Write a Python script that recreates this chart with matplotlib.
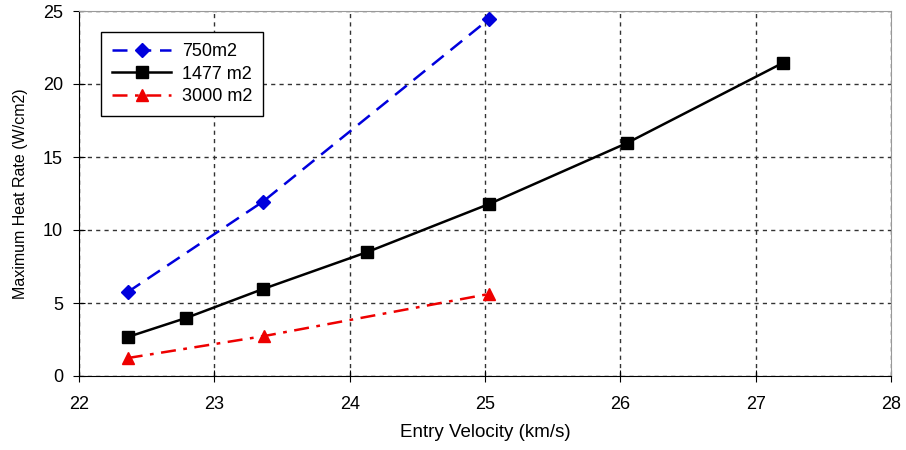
"""
Maximum heat rate vs entry velocity for three aeroshell areas.
"""

import matplotlib
matplotlib.use('Agg')
import matplotlib.pyplot as plt

# data
v_750 = [22.36, 23.36, 25.03]
q_750 = [5.75, 11.95, 24.45]

v_1477 = [22.36, 22.79, 23.36, 24.13, 25.03, 26.05, 27.2]
q_1477 = [2.67, 3.97, 5.96, 8.49, 11.78, 15.96, 21.44]

v_3000 = [22.36, 23.37, 25.03]
q_3000 = [1.23, 2.74, 5.62]

plt.rcParams['font.family'] = ['Liberation Sans', 'DejaVu Sans']

fig = plt.figure(figsize=(9.06, 4.5), dpi=100)
ax = fig.add_axes([79/906, 74/450, (891-79)/906, (376-11)/450])

fs = 13
ax.plot(v_750, q_750, '--', color='#0000dd', marker='D', markersize=7,
    linewidth=1.8, dashes=(6, 3.5), label='750m2')
ax.plot(v_1477, q_1477, '-', color='black', marker='s', markersize=8,
    linewidth=1.8, label='1477 m2')
ax.plot(v_3000, q_3000, color='#ee0000', marker='^', markersize=8,
    linewidth=1.8, dashes=(6, 3, 1.5, 3), label='3000 m2')

ax.set_xlim(22, 28)
ax.set_ylim(0, 25)
ax.set_xticks(range(22, 29))
ax.set_yticks(range(0, 26, 5))
ax.grid(True, color='#333333', linestyle=(0, (3, 3)), linewidth=1)

for s in ['top', 'right']:
    ax.spines[s].set_color('#999999')
for s in ['left', 'bottom']:
    ax.spines[s].set_color('black')
ax.tick_params(labelsize=fs, direction='inout', length=9)
ax.tick_params(axis='x', pad=10)
ax.tick_params(axis='y', pad=7)

ax.set_xlabel('Entry Velocity (km/s)', fontsize=13.5, labelpad=8)
ax.set_ylabel('Maximum Heat Rate (W/cm2)', fontsize=11.5, labelpad=11)

leg = ax.legend(loc='upper left', bbox_to_anchor=(22/812, 1 - 21/365),
    borderaxespad=0, fontsize=fs, fancybox=False, framealpha=1,
    edgecolor='black', handlelength=3.3, handletextpad=0.6,
    borderpad=0.6, labelspacing=0.32)
leg.get_frame().set_linewidth(1)

plt.savefig('out.png', dpi=100)
